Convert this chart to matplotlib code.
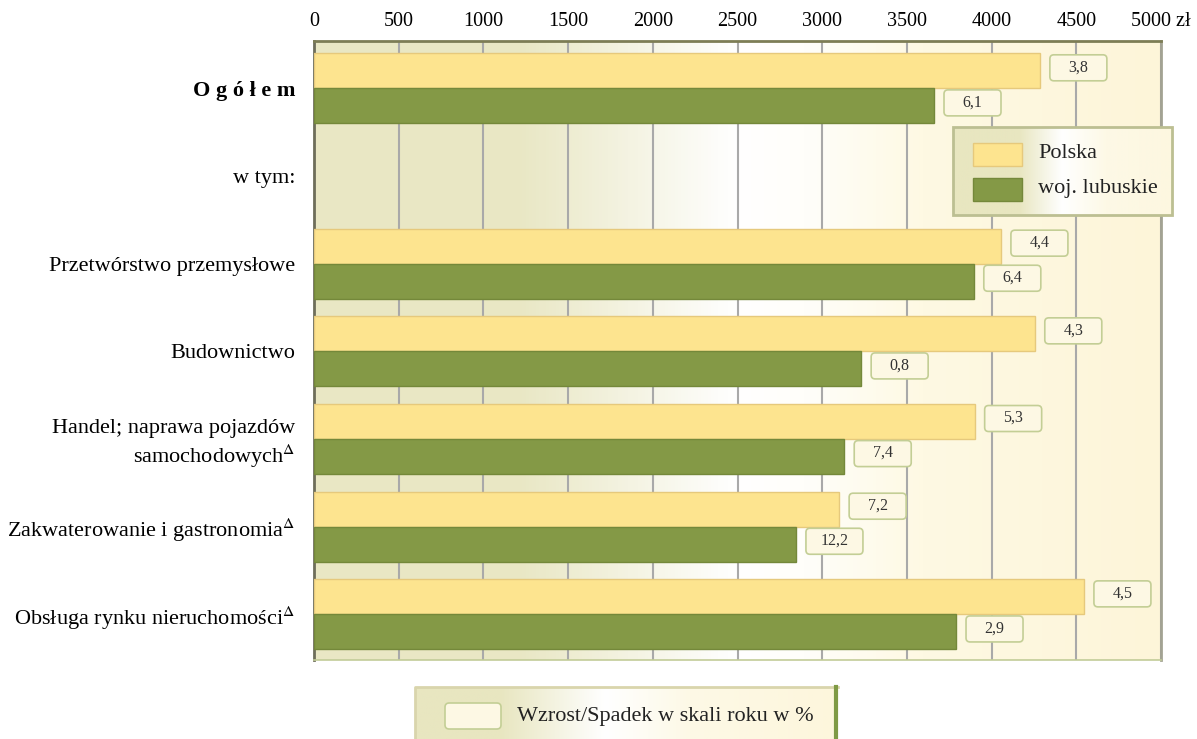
import matplotlib
matplotlib.use("Agg")
import matplotlib.pyplot as plt
import numpy as np
from matplotlib.colors import LinearSegmentedColormap
from matplotlib.patches import FancyBboxPatch, Rectangle
from matplotlib.transforms import ScaledTranslation

plt.rcParams['font.family'] = ['Liberation Serif', 'DejaVu Serif']
plt.rcParams['mathtext.fontset'] = 'stix'

# dane
categories = ["O g ó ł e m", "w tym:", "Przetwórstwo przemysłowe", "Budownictwo",
              "Handel; naprawa pojazdów\nsamochodowych$^{\\Delta}$",
              "Zakwaterowanie i gastronomia$^{\\Delta}$",
              "Obsługa rynku nieruchomości$^{\\Delta}$"]
polska = [4285, np.nan, 4055, 4255, 3900, 3100, 4545]
lubuskie = [3660, np.nan, 3895, 3230, 3130, 2845, 3790]
zmiana_polska = [3.8, np.nan, 4.4, 4.3, 5.3, 7.2, 4.5]
zmiana_lubuskie = [6.1, np.nan, 6.4, 0.8, 7.4, 12.2, 2.9]
xticks = [0, 500, 1000, 1500, 2000, 2500, 3000, 3500, 4000, 4500, 5000]
xtick_labels = ["0", "500", "1000", "1500", "2000", "2500", "3000", "3500", "4000", "4500", "5000 zł"]

c_pl = '#fde48f'
c_lub = '#849946'

W, H = 1197, 739
fig = plt.figure(figsize=(W / 100, H / 100), dpi=100)
ax = fig.add_axes([314 / W, 1 - 660 / H, (1161 - 314) / W, (660 - 41) / H])

# tło z gradientem
bg = LinearSegmentedColormap.from_list('bg', [(0, '#e9e7c4'), (0.24, '#e9e7c4'), (0.5, '#ffffff'),
                                              (0.58, '#fffefa'), (0.72, '#fef9e3'), (1, '#fdf5d9')])
ylim = (len(categories) - 0.48, -0.54)
ax.imshow(np.linspace(0, 1, 256).reshape(1, -1), cmap=bg, aspect='auto',
          extent=(0, 5000, ylim[0], ylim[1]), zorder=0)

y = np.arange(len(categories))
h = 0.4
ax.barh(y - h / 2, polska, h, color=c_pl, edgecolor='#e6c97c', linewidth=1, zorder=3)
ax.barh(y + h / 2, lubuskie, h, color=c_lub, edgecolor='#74883a', linewidth=1, zorder=3)

ax.set_xlim(0, 5000)
ax.set_ylim(*ylim)
ax.set_axisbelow(True)
ax.grid(axis='x', color='#a9a9a9', linewidth=1.5, zorder=1)
ax.xaxis.tick_top()
ax.set_xticks(xticks)
ax.set_xticklabels(xtick_labels, fontsize=14.5)
ax.tick_params(axis='x', direction='in', length=0, pad=7)
ax.set_yticks(y)
ax.set_yticklabels(categories, fontsize=16)
ax.tick_params(axis='y', length=0, pad=13.5)
ax.get_yticklabels()[0].set_fontweight('bold')

ax.spines['top'].set_color('#7d7d55')
ax.spines['top'].set_linewidth(2)
ax.spines['left'].set_color('#6e6e5a')
ax.spines['left'].set_linewidth(2)
ax.spines['right'].set_color('#a3a393')
ax.spines['right'].set_linewidth(2)
ax.spines['bottom'].set_color('#c2cc98')
ax.spines['bottom'].set_linewidth(1.2)

# etykiety zmian r/r
bw, bhh = 0.57, 0.26
for vals, chg, dy in [(polska, zmiana_polska, -h / 2), (lubuskie, zmiana_lubuskie, h / 2)]:
    for i, (v, c) in enumerate(zip(vals, chg)):
        if np.isnan(v):
            continue
        tr = fig.dpi_scale_trans + ScaledTranslation(v, i + dy, ax.transData)
        box = FancyBboxPatch((0.10, -bhh / 2 + 0.03), bw, bhh,
                             boxstyle='round,pad=0,rounding_size=0.04',
                             facecolor='#fdf8e4', edgecolor='#c3ce95', linewidth=1.2,
                             transform=tr, zorder=5, clip_on=False)
        ax.add_patch(box)
        ax.text(0.10 + bw / 2, 0.035, f"{c:.1f}".replace('.', ','), transform=tr,
                ha='center', va='center', fontsize=11.5, color='#333333', zorder=6)

# legenda
lax = fig.add_axes([953 / W, 1 - 215 / H, (1172 - 953) / W, (215 - 127) / H], zorder=10)
lg = LinearSegmentedColormap.from_list('lg', [(0, '#e8e6c0'), (0.3, '#e8e6c0'), (0.5, '#ffffff'),
                                              (0.7, '#fdf9e6'), (1, '#fdf7e0')])
lax.imshow(np.linspace(0, 1, 256).reshape(1, -1), cmap=lg, aspect='auto', extent=(0, 1, 0, 1))
lax.set_xlim(0, 1)
lax.set_ylim(0, 1)
lax.axis('off')
lax.add_patch(Rectangle((0, 0), 1, 1, fill=False, edgecolor='#bcbf92', linewidth=2,
                        transform=lax.transAxes, clip_on=False))
lax.add_patch(Rectangle((20 / 219, 49 / 88), 49 / 219, 23 / 88, facecolor=c_pl,
                        edgecolor='#e6c97c', linewidth=1))
lax.add_patch(Rectangle((20 / 219, 14 / 88), 49 / 219, 23 / 88, facecolor=c_lub,
                        edgecolor='#74883a', linewidth=1))
lax.text(85 / 219, 61 / 88, "Polska", fontsize=16, va='center', ha='left', color='#222222')
lax.text(85 / 219, 26 / 88, "woj. lubuskie", fontsize=16, va='center', ha='left', color='#222222')

# legenda dolna
bax = fig.add_axes([415 / W, 0, (838 - 415) / W, (739 - 687) / H], zorder=10)
bg2 = LinearSegmentedColormap.from_list('bg2', [(0, '#e8e6c0'), (0.2, '#e8e6c0'), (0.45, '#ffffff'),
                                                (0.65, '#fdf9e6'), (1, '#fdf6dc')])
bax.imshow(np.linspace(0, 1, 256).reshape(1, -1), cmap=bg2, aspect='auto', extent=(0, 1, 0, 1))
bax.set_xlim(0, 1)
bax.set_ylim(0, 1)
bax.axis('off')
bax.plot([0, 0, 1], [0, 1, 1], color='#d9d5ac', linewidth=2, transform=bax.transAxes, clip_on=False)
bax.plot([0.995, 0.995], [0, 1], color='#7f9a45', linewidth=3, transform=bax.transAxes, clip_on=False)
bax.add_patch(FancyBboxPatch((30 / 423, 10 / 52), 56 / 423, 26 / 52,
                             boxstyle='round,pad=0,rounding_size=0.01', mutation_aspect=8,
                             facecolor='#fdf8e4', edgecolor='#c3ce95', linewidth=1.2))
bax.text(102 / 423, 23 / 52, "Wzrost/Spadek w skali roku w %", fontsize=16, va='center',
         ha='left', color='#222222')

fig.savefig('out.png', dpi=100)
